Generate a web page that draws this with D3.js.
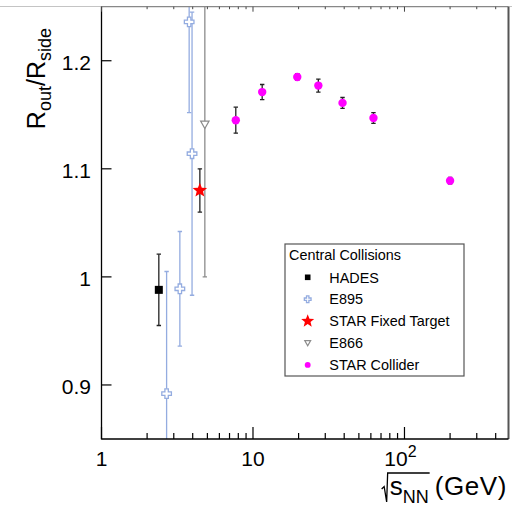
<!DOCTYPE html>
<html><head><meta charset="utf-8">
<script src="https://cdn.jsdelivr.net/npm/d3@7"></script>
<style>body{margin:0;background:#fff} svg{display:block} text{font-family:"Liberation Sans",Arial,Helvetica,sans-serif}</style>
</head><body><svg id="c" width="512" height="506"></svg>
<script>
// ---- data ----
const hadesX=[2.39], hadesY=[0.988], hadesErr=[0.033];
const e895X=[2.69,3.29,3.79,3.96], e895Y=[0.892,0.989,1.236,1.114], e895Err=[0.113,0.053,0.084,0.131];
const fxtX=[4.46], fxtY=[1.080], fxtErr=[0.020];
const e866X=[4.81], e866Y=[1.141], e866Err=[0.141];
const colX=[7.7,11.5,19.6,27,39,62.4,200], colY=[1.145,1.171,1.185,1.177,1.161,1.147,1.089], colErr=[0.012,0.007,0.003,0.006,0.005,0.005,0.003];
const xMajor=[1,10,100];
const xMinor=[2,3,4,5,6,7,8,9,20,30,40,50,60,70,80,90,200,300,400];
const yTickVals=[0.9,1.0,1.1,1.2];
const yTickLabels=["0.9","1","1.1","1.2"];
const legendTitle="Central Collisions";
const legendLabels=["HADES","E895","STAR Fixed Target","E866","STAR Collider"];

const svg=d3.select("#c");
const L=101.5,R=508.5,T=6.7,B=439;
const x=d3.scaleLog().domain([1,486]).range([L,R]);
const y=d3.scaleLinear().domain([0.85,1.25]).range([B,T]);
const blue="#94ace0", grey="#8c8c8c", mag="#ff00ff", red="#ff0000";

// top grey line across the picture
svg.append("line").attr("x1",0).attr("x2",512).attr("y1",6.5).attr("y2",6.5).attr("stroke","#c4c4c4").attr("stroke-width",1.2);

// clip
svg.append("clipPath").attr("id","pc").append("rect").attr("x",L).attr("y",T).attr("width",R-L).attr("height",B-T);
const g=svg.append("g").attr("clip-path","url(#pc)");

// marker paths
function crossPath(h,w){return `M${-w},${-h}H${w}V${-w}H${h}V${w}H${w}V${h}H${-w}V${w}H${-h}V${-w}H${-w}Z`;}
function starPath(ro,ri){let p=[];for(let i=0;i<10;i++){const a=-Math.PI/2+i*Math.PI/5,r=i%2?ri:ro;p.push([r*Math.cos(a),r*Math.sin(a)]);}return "M"+p.map(d=>d.join(",")).join("L")+"Z";}
function triDown(s){return `M${-s},${-s*0.8}L${s},${-s*0.8}L0,${s*0.95}Z`;}

function errBars(X,Y,E,col,cap){
  X.forEach((xv,i)=>{
    const px=x(xv);
    g.append("line").attr("x1",px).attr("x2",px).attr("y1",y(Y[i]+E[i])).attr("y2",y(Y[i]-E[i])).attr("stroke",col).attr("stroke-width",1.3);
    [Y[i]+E[i],Y[i]-E[i]].forEach(v=>g.append("line").attr("x1",px-cap).attr("x2",px+cap).attr("y1",y(v)).attr("y2",y(v)).attr("stroke",col).attr("stroke-width",1.3));
  });
}
errBars(e895X,e895Y,e895Err,blue,2.2);
errBars(e866X,e866Y,e866Err,grey,2.2);
errBars(hadesX,hadesY,hadesErr,"#222",2.2);
errBars(fxtX,fxtY,fxtErr,"#222",2.2);
errBars(colX,colY,colErr,"#222",2.2);

function drawMarker(sel,type,s){
  if(type==="sq") sel.append("rect").attr("x",-4*s).attr("y",-4*s).attr("width",8*s).attr("height",8*s).attr("fill","#000");
  if(type==="cross") sel.append("path").attr("d",crossPath(4.8*s,1.7*s)).attr("fill","#fff").attr("stroke",blue).attr("stroke-width",1.3);
  if(type==="star") sel.append("path").attr("d",starPath(7.6*s,3.3*s)).attr("fill",red);
  if(type==="tri") sel.append("path").attr("d",triDown(4.2*s)).attr("fill","#fff").attr("stroke",grey).attr("stroke-width",1.2);
  if(type==="circ") sel.append("circle").attr("r",4.2*s).attr("fill",mag);
}
function points(X,Y,type){X.forEach((xv,i)=>{drawMarker(g.append("g").attr("transform",`translate(${x(xv)},${y(Y[i])})`),type,1);});}
points(e895X,e895Y,"cross");
points(e866X,e866Y,"tri");
points(hadesX,hadesY,"sq");
points(fxtX,fxtY,"star");
points(colX,colY,"circ");

// frame
svg.append("line").attr("x1",L).attr("x2",R).attr("y1",T).attr("y2",T).attr("stroke","#888").attr("stroke-width",1.3);
svg.append("line").attr("x1",R).attr("x2",R).attr("y1",T).attr("y2",B).attr("stroke","#555").attr("stroke-width",2);
svg.append("line").attr("x1",L).attr("x2",L).attr("y1",T).attr("y2",B+0.6).attr("stroke","#000").attr("stroke-width",1.3);
svg.append("line").attr("x1",L).attr("x2",R).attr("y1",B).attr("y2",B).attr("stroke","#000").attr("stroke-width",1.3);

// x ticks
xMajor.forEach(v=>{svg.append("line").attr("x1",x(v)).attr("x2",x(v)).attr("y1",B).attr("y2",B-12).attr("stroke","#000").attr("stroke-width",1.2);
  svg.append("line").attr("x1",x(v)).attr("x2",x(v)).attr("y1",T).attr("y2",T+5).attr("stroke","#444").attr("stroke-width",1);});
xMinor.forEach(v=>{svg.append("line").attr("x1",x(v)).attr("x2",x(v)).attr("y1",B).attr("y2",B-6).attr("stroke","#000").attr("stroke-width",1.2);
  svg.append("line").attr("x1",x(v)).attr("x2",x(v)).attr("y1",T).attr("y2",T+2.5).attr("stroke","#444").attr("stroke-width",1);});
// y ticks
yTickVals.forEach((v,i)=>{svg.append("line").attr("x1",L).attr("x2",L+10).attr("y1",y(v)).attr("y2",y(v)).attr("stroke","#000").attr("stroke-width",1.2);
  svg.append("text").attr("x",91).attr("y",y(v)+9).attr("text-anchor","end").attr("font-size",21).text(yTickLabels[i]);});

// x tick labels
svg.append("text").attr("x",x(1)).attr("y",466).attr("text-anchor","middle").attr("font-size",21).text("1");
svg.append("text").attr("x",x(10)).attr("y",466).attr("text-anchor","middle").attr("font-size",21).text("10");
const t100=svg.append("text").attr("x",x(100)-4).attr("y",466).attr("text-anchor","middle").attr("font-size",21);
t100.append("tspan").text("10");
t100.append("tspan").attr("dy",-9).attr("font-size",16).text("2");

// x title
const gev=svg.append("text").attr("x",507).attr("y",495).attr("text-anchor","end").attr("font-size",26).attr("letter-spacing",0.6).text("(GeV)");
const gb=gev.node().getBBox();
const snn=svg.append("text").attr("x",gb.x-6).attr("y",495).attr("text-anchor","end").attr("font-size",26);
snn.append("tspan").text("s");
snn.append("tspan").attr("dy",8).attr("font-size",18).text("NN");
const sb=snn.node().getBBox();
const rx=sb.x-2;
svg.append("path").attr("d",`M${rx-6},${489}L${rx-3.5},${486.5}L${rx-1},${502}L${rx},${473}H${sb.x+sb.width+1}`).attr("fill","none").attr("stroke","#000").attr("stroke-width",1.3);

// y title
const yt=svg.append("text").attr("transform","translate(45,28) rotate(-90)").attr("text-anchor","end").attr("font-size",25);
yt.append("tspan").text("R");
yt.append("tspan").attr("dy",6).attr("font-size",18).text("out");
yt.append("tspan").attr("dy",-6).text("/R");
yt.append("tspan").attr("dy",6).attr("font-size",18).text("side");

// legend
const lg=svg.append("g");
lg.append("rect").attr("x",285).attr("y",244).attr("width",179).attr("height",132).attr("fill","#fff").attr("stroke","#555").attr("stroke-width",1.2);
lg.append("text").attr("x",289).attr("y",260).attr("font-size",14.4).text(legendTitle);
const types=["sq","cross","star","tri","circ"];
const lscale=[0.7,0.7,0.9,0.7,0.7];
legendLabels.forEach((lab,i)=>{
  const cy=277.3+i*21.9;
  drawMarker(lg.append("g").attr("transform",`translate(307.7,${cy})`),types[i],lscale[i]);
  lg.append("text").attr("x",329.3).attr("y",cy+5.2).attr("font-size",14.4).text(lab);
});
</script></body></html>
